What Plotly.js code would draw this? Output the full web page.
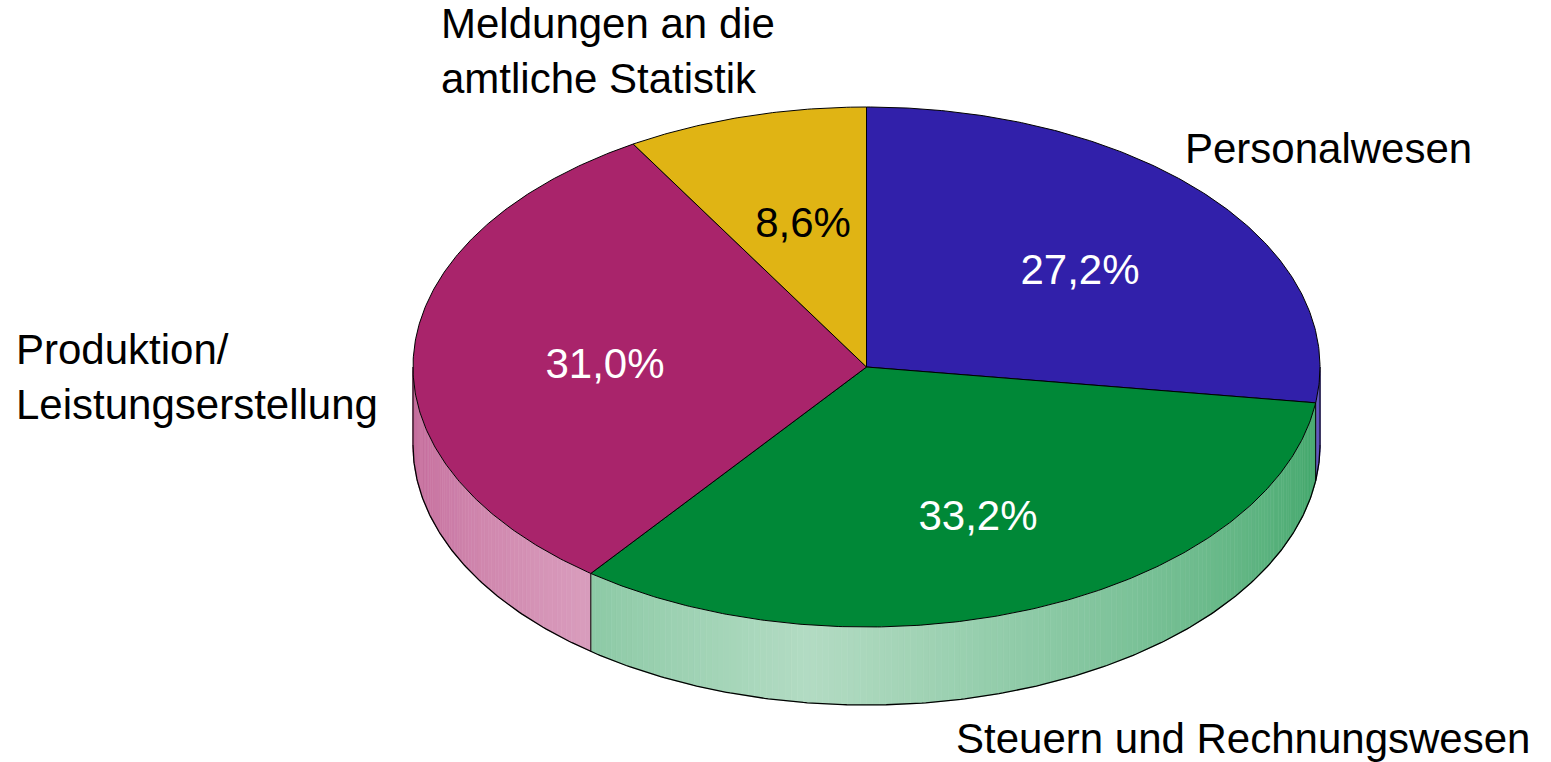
<!DOCTYPE html>
<html>
<head>
<meta charset="utf-8">
<script src="https://cdn.plot.ly/plotly-3.0.1.min.js"></script>
<style>html,body{margin:0;padding:0;background:#fff;}#chart{width:1551px;height:762px;}</style>
</head>
<body>
<div id="chart"></div>
<script>
// ---- data ----
const categories = ['Personalwesen', 'Steuern und Rechnungswesen', 'Produktion/<br>Leistungserstellung', 'Meldungen an die<br>amtliche Statistik'];
const values = [27.2, 33.2, 31.0, 8.6];
const valueLabels = ['27,2%', '33,2%', '31,0%', '8,6%'];
const colors = ['#3120AA', '#008837', '#A9246B', '#E0B414'];
const valueTextColors = ['#ffffff', '#ffffff', '#ffffff', '#000000'];

// ---- layout / geometry (not data) ----
const W = 1551, H = 762;
const CX = 866.5, CY = 367, RX = 453.5, RY = 260, DEPTH = 78;
const START = 90; // degrees, clockwise
const FONT = 'Liberation Sans, Arial, sans-serif';
const FS = 42;
const catPos = [
  {x: 1183, y: 148, align: 'left'},
  {x: 954, y: 738, align: 'left'},
  {x: 14, y: 377, align: 'left'},
  {x: 439, y: 51, align: 'left'}
];
const valPos = [
  {x: 1080, y: 273}, {x: 978, y: 519}, {x: 605, y: 367}, {x: 803, y: 226}
];

const rad = d => d * Math.PI / 180;
const px = (t) => CX + RX * Math.cos(rad(t));
const py = (t, dy) => CY - RY * Math.sin(rad(t)) + (dy || 0);

function hexToRgb(h) { return [1,3,5].map(i => parseInt(h.substr(i,2),16)); }
function mixWhite(h, t) {
  const c = hexToRgb(h).map(v => Math.round(v + (255 - v) * t));
  return 'rgb(' + c.join(',') + ')';
}
function shade(t) { // t angle deg in [-180,0]
  const L = -97.5;
  return Math.max(0.15, 0.70 - 0.41 * Math.abs(t - L) / 83);
}

const total = values.reduce((a, b) => a + b, 0);
const slices = [];
let a0 = START;
values.forEach((v, i) => {
  const a1 = a0 - v / total * 360;
  slices.push({a0: a0, a1: a1});
  a0 = a1;
});

const traces = [];
// side walls
slices.forEach((s, i) => {
  const lo = Math.max(s.a1, -180), hi = Math.min(s.a0, 0);
  if (hi <= lo) return;
  const n = Math.max(1, Math.ceil((hi - lo) / 0.8));
  const step = (hi - lo) / n;
  for (let k = 0; k < n; k++) {
    const t1 = lo + k * step, t2 = t1 + step;
    const col = mixWhite(colors[i], shade((t1 + t2) / 2));
    traces.push({
      type: 'scatter', mode: 'lines', fill: 'toself', fillcolor: col,
      x: [px(t1), px(t2), px(t2), px(t1), px(t1)],
      y: [py(t1), py(t2), py(t2, DEPTH), py(t1, DEPTH), py(t1)],
      line: {color: col, width: 0.6}, hoverinfo: 'skip', showlegend: false
    });
  }
});
// wall outlines: bottom arc + vertical edges
{
  const bx = [], by = [];
  for (let t = -180; t <= 0.001; t += 0.5) { bx.push(px(t)); by.push(py(t, DEPTH)); }
  traces.push({type: 'scatter', mode: 'lines', x: bx, y: by, line: {color: '#000', width: 1.3}, hoverinfo: 'skip', showlegend: false});
  const edges = [-180, 0];
  slices.forEach(s => { if (s.a1 > -180 && s.a1 < 0) edges.push(s.a1); });
  edges.forEach(t => {
    traces.push({type: 'scatter', mode: 'lines', x: [px(t), px(t)], y: [py(t), py(t, DEPTH)], line: {color: '#000', width: 1}, hoverinfo: 'skip', showlegend: false});
  });
}
// top faces
slices.forEach((s, i) => {
  const xs = [CX], ys = [CY];
  const n = Math.ceil((s.a0 - s.a1) / 0.5);
  for (let k = 0; k <= n; k++) {
    const t = s.a0 - (s.a0 - s.a1) * k / n;
    xs.push(px(t)); ys.push(py(t));
  }
  xs.push(CX); ys.push(CY);
  traces.push({
    type: 'scatter', mode: 'lines', fill: 'toself', fillcolor: colors[i],
    x: xs, y: ys, line: {color: '#000', width: 1}, hoverinfo: 'skip', showlegend: false
  });
});
// value labels
traces.push({
  type: 'scatter', mode: 'text',
  x: valPos.map(p => p.x), y: valPos.map(p => p.y),
  text: valueLabels, textposition: 'middle center',
  textfont: {family: FONT, size: FS, color: valueTextColors},
  hoverinfo: 'skip', showlegend: false
});

const annotations = categories.map((c, i) => ({
  x: catPos[i].x, y: catPos[i].y, xref: 'x', yref: 'y',
  text: c, showarrow: false, xanchor: 'left', yanchor: 'middle', align: catPos[i].align,
  font: {family: FONT, size: FS, color: '#000'}
}));

const layout = {
  width: W, height: H,
  margin: {l: 0, r: 0, t: 0, b: 0, pad: 0},
  paper_bgcolor: '#fff', plot_bgcolor: '#fff',
  xaxis: {range: [0, W], visible: false, fixedrange: true},
  yaxis: {range: [H, 0], visible: false, fixedrange: true},
  showlegend: false,
  annotations: annotations
};
Plotly.newPlot('chart', traces, layout, {staticPlot: true, displayModeBar: false});
</script>
</body>
</html>
